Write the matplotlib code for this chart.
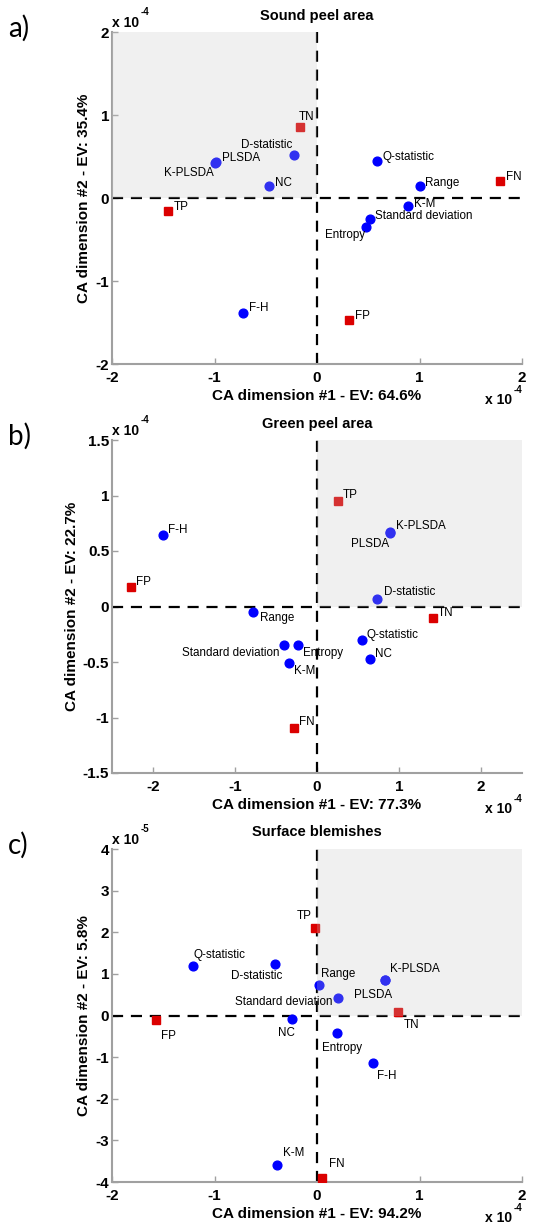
import matplotlib
matplotlib.use("Agg")
import matplotlib.pyplot as plt
from matplotlib.patches import Rectangle

W, H = 538, 1224
plt.rcParams['font.family'] = ['Liberation Sans', 'DejaVu Sans']

# ---------------- data (CA coordinates, scaled units) ----------------
# Panel a: Sound peel area (x1e-4, y1e-4)
a_names = ["D-statistic", "PLSDA", "K-PLSDA", "NC", "Q-statistic", "Range", "K-M",
           "Standard deviation", "Entropy", "F-H", "TN", "TP", "FN", "FP"]
a_x = [-0.22, -0.99, -1.00, -0.47, 0.586, 1.00, 0.89, 0.52, 0.48, -0.726, -0.17, -1.45, 1.785, 0.31]
a_y = [0.52, 0.43, 0.42, 0.15, 0.44, 0.15, -0.10, -0.25, -0.35, -1.38, 0.855, -0.16, 0.21, -1.47]
a_kind = ["m"] * 10 + ["c"] * 4

# Panel b: Green peel area (x1e-4, y1e-4)
b_names = ["K-PLSDA", "PLSDA", "D-statistic", "F-H", "Range", "Q-statistic", "NC",
           "Standard deviation", "Entropy", "K-M", "TP", "FP", "TN", "FN"]
b_x = [0.89, 0.885, 0.726, -1.88, -0.78, 0.544, 0.645, -0.40, -0.227, -0.34, 0.255, -2.27, 1.415, -0.28]
b_y = [0.67, 0.665, 0.072, 0.643, -0.05, -0.303, -0.477, -0.345, -0.348, -0.507, 0.95, 0.177, -0.105, -1.096]
b_kind = ["m"] * 10 + ["c"] * 4

# Panel c: Surface blemishes (x1e-4, y1e-5)
c_names = ["Q-statistic", "D-statistic", "Range", "Standard deviation", "K-PLSDA", "PLSDA",
           "NC", "Entropy", "F-H", "K-M", "TP", "TN", "FP", "FN"]
c_x = [-1.21, -0.41, 0.016, 0.206, 0.668, 0.665, -0.242, 0.197, 0.542, -0.387, -0.023, 0.79, -1.57, 0.048]
c_y = [1.20, 1.24, 0.74, 0.43, 0.86, 0.855, -0.09, -0.41, -1.145, -3.60, 2.10, 0.08, -0.105, -3.90]
c_kind = ["m"] * 10 + ["c"] * 4

titles = ["Sound peel area", "Green peel area", "Surface blemishes"]
xlabels = ["CA dimension #1 - EV: 64.6%", "CA dimension #1 - EV: 77.3%", "CA dimension #1 - EV: 94.2%"]
ylabels = ["CA dimension #2 - EV: 35.4%", "CA dimension #2 - EV: 22.7%", "CA dimension #2 - EV: 5.8%"]
panel_tags = ["a)", "b)", "c)"]
xexp = ["-4", "-4", "-4"]
yexp = ["-4", "-4", "-5"]
xticks_list = [[-2, -1, 0, 1, 2], [-2, -1, 0, 1, 2], [-2, -1, 0, 1, 2]]
xticklabels_list = [["-2", "-1", "0", "1", "2"], ["-2", "-1", "0", "1", "2"], ["-2", "-1", "0", "1", "2"]]
yticks_list = [[-2, -1, 0, 1, 2], [-1.5, -1, -0.5, 0, 0.5, 1, 1.5], [-4, -3, -2, -1, 0, 1, 2, 3, 4]]
yticklabels_list = [["-2", "-1", "0", "1", "2"],
                    ["-1.5", "-1", "-0.5", "0", "0.5", "1", "1.5"],
                    ["-4", "-3", "-2", "-1", "0", "1", "2", "3", "4"]]

# ---------------- layout ----------------
xlims = [(-2, 2), (-2.5, 2.5), (-2, 2)]
ylims = [(-2, 2), (-1.5, 1.5), (-4, 4)]
# axes boxes in pixel coords: left, top, right, bottom
boxes = [(112, 32, 522, 364), (112, 440, 522, 773), (112, 849, 522, 1182)]
# shaded quadrant (x0, x1, y0, y1) in data units
shades = [(-2, 0, 0, 2), (0, 2.5, 0, 1.5), (0, 2, 0, 4)]

# label offsets in pixels (dx, dy down-positive, ha)
a_off = {"D-statistic": (-2, -10, "right"), "PLSDA": (6, -4, "left"), "K-PLSDA": (-1, 10, "right"),
         "NC": (6, -3, "left"), "Q-statistic": (5, -4, "left"), "Range": (5, -3, "left"),
         "K-M": (6, -2, "left"), "Standard deviation": (5, -3, "left"), "Entropy": (-1, 8, "right"),
         "F-H": (6, -5, "left"), "TN": (-1, -10, "left"), "TP": (5, -4, "left"),
         "FN": (6, -4, "left"), "FP": (6, -4, "left")}
b_off = {"K-PLSDA": (6, -6, "left"), "PLSDA": (0, 11, "right"), "D-statistic": (7, -7, "left"),
         "F-H": (5, -5, "left"), "Range": (7, 6, "left"), "Q-statistic": (5, -5, "left"),
         "NC": (5, -5, "left"), "Standard deviation": (-5, 8, "right"), "Entropy": (5, 8, "left"),
         "K-M": (5, 8, "left"), "TP": (5, -6, "left"), "FP": (5, -5, "left"),
         "TN": (5, -5, "left"), "FN": (5, -6, "left")}
c_off = {"Q-statistic": (1, -11, "left"), "D-statistic": (7, 12, "right"), "Range": (2, -11, "left"),
         "Standard deviation": (-6, 4, "right"), "K-PLSDA": (5, -11, "left"), "PLSDA": (7, 15, "right"),
         "NC": (-6, 14, "center"), "Entropy": (-15, 15, "left"), "F-H": (4, 13, "left"),
         "K-M": (6, -12, "left"), "TP": (-3, -12, "right"), "TN": (6, 13, "left"),
         "FP": (5, 16, "left"), "FN": (7, -14, "left")}

panels = [(a_names, a_x, a_y, a_kind, a_off),
          (b_names, b_x, b_y, b_kind, b_off),
          (c_names, c_x, c_y, c_kind, c_off)]

fig = plt.figure(figsize=(W / 100, H / 100), dpi=100)

def fx(px):
    return px / W

def fy(py):
    return 1 - py / H

blue = (0, 0, 1)
red = (0.86, 0, 0)
spine_col = "#a0a0a0"

for i, (names, xs, ys, kinds, offs) in enumerate(panels):
    l, t, r, b = boxes[i]
    ax = fig.add_axes([fx(l), fy(b), (r - l) / W, (b - t) / H])
    ax.set_xlim(*xlims[i])
    ax.set_ylim(*ylims[i])
    for s in ["top", "right"]:
        ax.spines[s].set_visible(False)
    for s in ["left", "bottom"]:
        ax.spines[s].set_color(spine_col)
        ax.spines[s].set_linewidth(1.5)
    ax.set_xticks(xticks_list[i])
    ax.set_xticklabels(xticklabels_list[i], fontsize=11, fontweight="bold")
    ax.set_yticks(yticks_list[i])
    ax.set_yticklabels(yticklabels_list[i], fontsize=11, fontweight="bold")
    ax.tick_params(direction="in", length=4, width=1, color=spine_col)
    ax.tick_params(axis="x", pad=5)
    ax.tick_params(axis="y", pad=2)

    ax.axhline(0, color="black", lw=1.6, ls=(0, (5, 3.5)), zorder=2)
    ax.axvline(0, color="black", lw=1.6, ls=(0, (5, 3.5)), zorder=2)

    for name, x, y, k in zip(names, xs, ys, kinds):
        if k == "m":
            ax.plot(x, y, "o", color=blue, ms=6.3, mec=blue, zorder=3)
        else:
            ax.plot(x, y, "s", color=red, ms=5.2, mec=red, zorder=3)
        dx, dy, ha = offs[name]
        ax.annotate(name, (x, y), xytext=(dx * 0.72, -dy * 0.72), textcoords="offset points",
                    ha=ha, va="center", fontsize=8.4, zorder=6)

    x0, x1, y0, y1 = shades[i]
    ax.add_patch(Rectangle((x0, y0), x1 - x0, y1 - y0, facecolor=(0.77, 0.77, 0.77),
                           alpha=0.25, edgecolor="none", zorder=4))

    ax.set_xlabel(xlabels[i], fontsize=11, fontweight="bold", labelpad=3)
    ax.set_ylabel(ylabels[i], fontsize=11, fontweight="bold", labelpad=3)
    ax.set_title(titles[i], fontsize=10.5, fontweight="bold", pad=9)

    # exponent annotations
    fig.text(fx(112), fy(t - 9), "x 10", fontsize=10, fontweight="bold", ha="left", va="center")
    fig.text(fx(141), fy(t - 20), yexp[i], fontsize=7, fontweight="bold", ha="left", va="center")
    fig.text(fx(485), fy(b + 36), "x 10", fontsize=10, fontweight="bold", ha="left", va="center")
    fig.text(fx(514), fy(b + 26), xexp[i], fontsize=7, fontweight="bold", ha="left", va="center")

    # panel tag
    fig.text(fx(8), fy(t - 4), panel_tags[i], fontsize=20, family=["Lato", "DejaVu Sans"],
             ha="left", va="center")

fig.savefig("out.png", dpi=100)
